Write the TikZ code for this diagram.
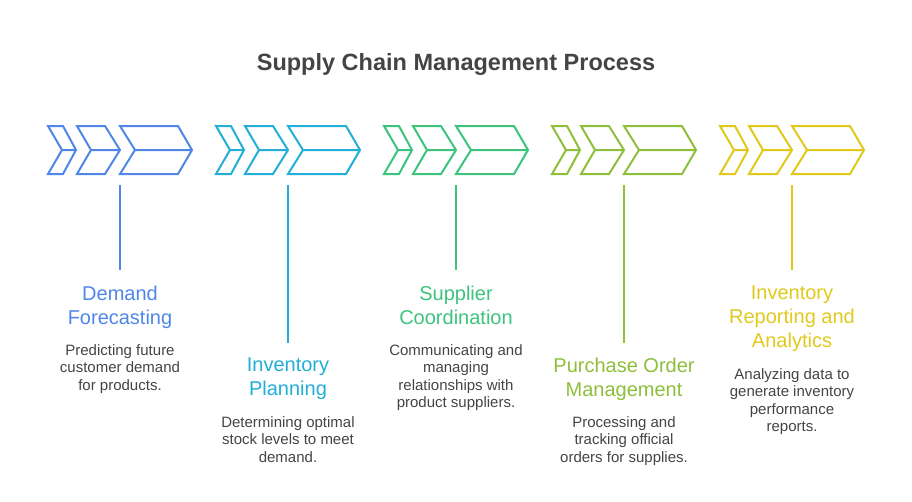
\documentclass[tikz,border=0pt]{standalone}
\usepackage{fontspec}
\setmainfont{Liberation Sans}
\definecolor{c1}{HTML}{4F86E8}
\definecolor{c2}{HTML}{22AED6}
\definecolor{c3}{HTML}{3CC47C}
\definecolor{c4}{HTML}{8DBF3A}
\definecolor{c5}{HTML}{E0C91A}
\definecolor{tx}{HTML}{444444}
\begin{document}
\begin{tikzpicture}[x=1pt,y=-1pt,
  chev/.style={line width=2pt,line join=miter},
  ttl/.style={font=\fontsize{20}{24}\selectfont,align=center,anchor=north},
  dsc/.style={font=\fontsize{15}{17.3}\selectfont,text=tx,align=center,anchor=north}]
\useasboundingbox (0,0) rectangle (912,501);
\node[font=\fontsize{23.5}{28}\selectfont\bfseries,text=tx] (title) at (456,64) {Supply Chain Management Process};
\newcommand\chevs[2]{%
 \begin{scope}[xshift=#1]
 \draw[chev,#2] (48,126)--(63,126)--(76,150)--(63,174)--(48,174)--(62,150)--cycle (62,150)--(76,150);
 \draw[chev,#2] (77,126)--(105,126)--(120,150)--(105,174)--(77,174)--(91,150)--cycle (91,150)--(120,150);
 \draw[chev,#2] (120,126)--(178,126)--(192,150)--(178,174)--(120,174)--(135,150)--cycle (135,150)--(192,150);
 \end{scope}}
\chevs{0}{c1}\chevs{168}{c2}\chevs{336}{c3}\chevs{504}{c4}\chevs{672}{c5}
\coordinate (t1) at (120,185); \coordinate (b1) at (120,270);
\coordinate (t2) at (288,185); \coordinate (b2) at (288,343);
\coordinate (t3) at (456,185); \coordinate (b3) at (456,270);
\coordinate (t4) at (624,185); \coordinate (b4) at (624,343);
\coordinate (t5) at (792,185); \coordinate (b5) at (792,270);
\draw[c1,line width=1.5pt] (t1)--(b1);
\draw[c2,line width=1.5pt] (t2)--(b2);
\draw[c3,line width=1.5pt] (t3)--(b3);
\draw[c4,line width=1.5pt] (t4)--(b4);
\draw[c5,line width=1.5pt] (t5)--(b5);
\node[ttl,text=c1] (l1) at (120,282) {Demand\\Forecasting};
\node[dsc] (d1) at (120,341) {Predicting future\\customer demand\\for products.};
\node[ttl,text=c2] (l2) at (288,354) {Inventory\\Planning};
\node[dsc] (d2) at (288,413) {Determining optimal\\stock levels to meet\\demand.};
\node[ttl,text=c3] (l3) at (456,282) {Supplier\\Coordination};
\node[dsc] (d3) at (456,341) {Communicating and\\managing\\relationships with\\product suppliers.};
\node[ttl,text=c4] (l4) at (624,354) {Purchase Order\\Management};
\node[dsc] (d4) at (624,413) {Processing and\\tracking official\\orders for supplies.};
\node[ttl,text=c5] (l5) at (792,282) {Inventory\\Reporting and\\Analytics};
\node[dsc] (d5) at (792,365) {Analyzing data to\\generate inventory\\performance\\reports.};
\end{tikzpicture}
\end{document}
